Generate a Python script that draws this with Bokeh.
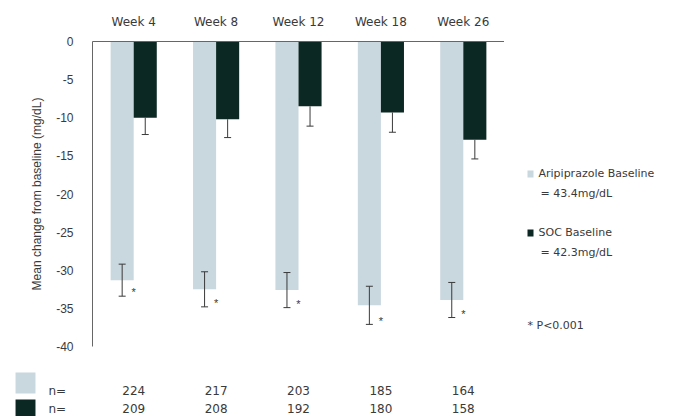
from bokeh.plotting import figure
from bokeh.layouts import column, row
from bokeh.models import (FactorRange, Range1d, ColumnDataSource, FixedTicker, Whisker, TeeHead)
from bokeh.transform import dodge
from bokeh.core.properties import value
from bokeh.embed import file_html
from bokeh.resources import INLINE

weeks = ["Week 4", "Week 8", "Week 12", "Week 18", "Week 26"]
aripiprazole = [-31.3, -32.5, -32.6, -34.6, -33.9]
aripiprazole_err = [2.1, 2.3, 2.3, 2.5, 2.3]
soc = [-10.0, -10.2, -8.5, -9.3, -12.9]
soc_err = [2.2, 2.4, 2.6, 2.6, 2.5]
n_aripiprazole = [224, 217, 203, 185, 164]
n_soc = [209, 208, 192, 180, 158]
y_ticks = [0, -5, -10, -15, -20, -25, -30, -35, -40]
legend_title = ["Aripiprazole Baseline", "SOC Baseline"]
legend_value = ["= 43.4mg/dL", "= 42.3mg/dL"]
footnote = "* P<0.001"

LIGHT = "#c9d7df"
DARK = "#0b2823"
TXT = "#3a3a3a"
AX = "#666666"
FONT = "Liberation Sans"
WFONT = "DejaVu Sans"

src = ColumnDataSource(dict(
    week=weeks,
    ari=aripiprazole,
    ari_lo=[v - e for v, e in zip(aripiprazole, aripiprazole_err)],
    ari_hi=[v + e for v, e in zip(aripiprazole, aripiprazole_err)],
    soc=soc,
    soc_lo=[v - e for v, e in zip(soc, soc_err)],
    star_y=[v - e + 0.5 for v, e in zip(aripiprazole, aripiprazole_err)],
    star=["*"] * len(weeks),
))

TOP_H = 356
FRAME_TOP = 41
FRAME_BOT = 346

# ---------------- main chart ----------------
p = figure(width=504, height=TOP_H, x_range=FactorRange(*weeks), y_range=Range1d(-40, 0),
           output_backend="svg", toolbar_location=None,
           min_border_left=92, min_border_right=0, min_border_top=FRAME_TOP,
           min_border_bottom=TOP_H - FRAME_BOT, x_axis_location="above")
p.outline_line_color = None
p.grid.grid_line_color = None
p.border_fill_color = "white"

p.vbar(x=dodge("week", -0.14, range=p.x_range), top=0, bottom="ari", width=0.28,
       source=src, fill_color=LIGHT, line_color=None)
p.vbar(x=dodge("week", 0.14, range=p.x_range), top=0, bottom="soc", width=0.28,
       source=src, fill_color=DARK, line_color=None)

p.add_layout(Whisker(base=dodge("week", -0.14, range=p.x_range), lower="ari_lo", upper="ari_hi",
                     source=src, line_color=TXT, line_width=1, level="overlay",
                     lower_head=TeeHead(size=7, line_color=TXT, line_width=1),
                     upper_head=TeeHead(size=7, line_color=TXT, line_width=1)))
p.add_layout(Whisker(base=dodge("week", 0.14, range=p.x_range), lower="soc_lo", upper="soc",
                     source=src, line_color=TXT, line_width=1, level="overlay",
                     lower_head=TeeHead(size=7, line_color=TXT, line_width=1),
                     upper_head=TeeHead(size=1, line_color=DARK, line_width=0)))

p.text(x=dodge("week", 0.0, range=p.x_range), y="star_y", text="star", source=src,
       text_font=value(FONT), text_font_size="11px", text_color=TXT,
       text_align="center", text_baseline="middle")

xa = p.xaxis[0]
xa.axis_line_color = AX
xa.major_tick_line_color = None
xa.minor_tick_line_color = None
xa.major_label_standoff = 7
xa.major_label_text_font = WFONT
xa.major_label_text_font_size = "12px"
xa.major_label_text_color = TXT

ya = p.yaxis[0]
ya.ticker = FixedTicker(ticks=y_ticks)
ya.major_label_overrides = {t: str(t) for t in y_ticks}
ya.axis_line_color = AX
ya.major_tick_line_color = None
ya.minor_tick_line_color = None
ya.major_label_standoff = 13
ya.major_label_text_font = FONT
ya.major_label_text_font_size = "12px"
ya.major_label_text_color = TXT
ya.axis_label = "Mean change from baseline (mg/dL)"
ya.axis_label_text_font = FONT
ya.axis_label_text_font_size = "12px"
ya.axis_label_text_font_style = "normal"
ya.axis_label_text_color = TXT
ya.axis_label_standoff = 9

# ---------------- legend panel (right); its frame is aligned with the main frame ----------------
lg = figure(width=176, height=TOP_H, x_range=Range1d(0, 176), y_range=Range1d(FRAME_BOT, FRAME_TOP),
            output_backend="svg", toolbar_location=None,
            min_border=0, min_border_left=0, min_border_right=0,
            min_border_top=FRAME_TOP, min_border_bottom=TOP_H - FRAME_BOT)
lg.axis.visible = False
lg.grid.grid_line_color = None
lg.outline_line_color = None
lg.quad(left=[23, 23], right=[29, 29], top=[170, 229], bottom=[177, 236],
        fill_color=[LIGHT, DARK], line_color=None)
lg.text(x=[34, 34], y=[173, 232], text=legend_title, text_font=value(WFONT),
        text_font_size="11px", text_color=TXT, text_baseline="middle")
lg.text(x=[36, 36], y=[193, 252], text=legend_value, text_font=value(WFONT),
        text_font_size="11px", text_color=TXT, text_baseline="middle")
lg.text(x=[23], y=[325], text=[footnote], text_font=value(WFONT),
        text_font_size="11px", text_color=TXT, text_baseline="middle")

# ---------------- n= table (bottom) ----------------
unit = 412 / len(weeks)
BOT_H = 416 - TOP_H
tb = figure(width=680, height=BOT_H, x_range=Range1d(-92 / unit, 588 / unit),
            y_range=Range1d((BOT_H - 34) / 18, -34 / 18),
            output_backend="svg", toolbar_location=None,
            min_border=0, min_border_left=0, min_border_right=0, min_border_top=0, min_border_bottom=0)
tb.axis.visible = False
tb.grid.grid_line_color = None
tb.outline_line_color = None
xs = [i + 0.5 for i in range(len(weeks))]
tb.text(x=xs, y=[0] * len(xs), text=[str(v) for v in n_aripiprazole], text_font=value(WFONT),
        text_font_size="12px", text_color=TXT, text_align="center", text_baseline="middle")
tb.text(x=xs, y=[1] * len(xs), text=[str(v) for v in n_soc], text_font=value(WFONT),
        text_font_size="12px", text_color=TXT, text_align="center", text_baseline="middle")
tb.text(x=[-0.534, -0.534], y=[0, 1], text=["n=", "n="], text_font=value(WFONT),
        text_font_size="12px", text_color=TXT, text_baseline="middle")
tb.quad(left=[-0.934, -0.934], right=[-0.692, -0.692], top=[-1.0, 0.5], bottom=[0.167, 1.7],
        fill_color=[LIGHT, DARK], line_color=None)

layout = column(row(p, lg, spacing=0), tb, spacing=0)
open("out.html", "w").write(file_html(layout, INLINE))
